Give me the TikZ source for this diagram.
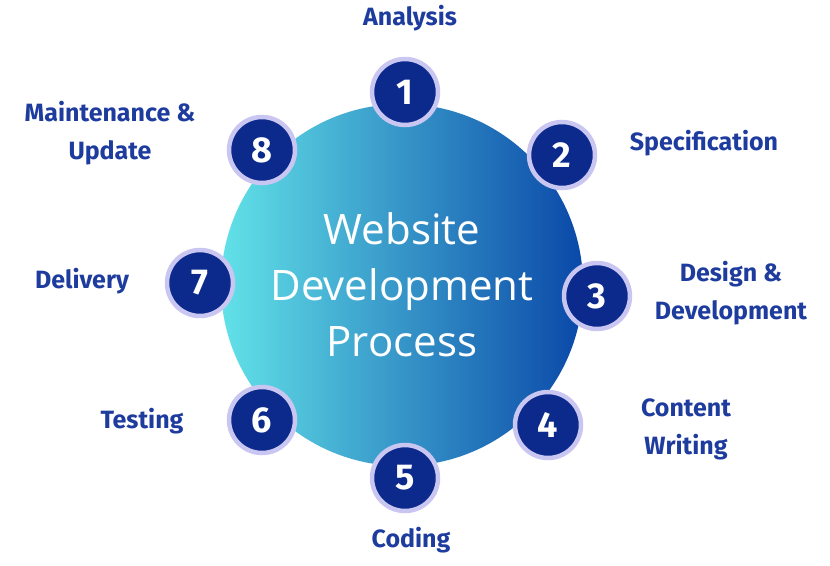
\documentclass[tikz,border=0pt]{standalone}
\usepackage{fontspec}
\setmainfont{Open Sans}
\newfontfamily\lab{Fira Sans}
\begin{document}
\begin{tikzpicture}[x=1pt,y=-1pt,
  num/.style={circle,draw=lavender,line width=4.5pt,fill=navy,minimum size=66pt,text=white,font=\lab\bfseries\fontsize{36}{36}\selectfont,inner sep=0pt},
  lbl/.style={text=lblue,font=\lab\bfseries\fontsize{25}{38}\selectfont,align=center}]
\definecolor{navy}{HTML}{0B2A8C}
\definecolor{lavender}{HTML}{C9C6F2}
\definecolor{lblue}{HTML}{1E3C9E}
\definecolor{cyanL}{HTML}{62E2E8}
\definecolor{blueR}{HTML}{0A48A8}
\useasboundingbox (0,0) rectangle (830,565);
\node[circle,minimum size=362pt,inner sep=0pt,shading=axis,top color=cyanL,bottom color=blueR,shading angle=90] (c) at (402,285) {};
\node[text=white,align=center,font=\fontsize{42}{56}\selectfont] (t) at (c) {Website\\Development\\Process};
\node[num] (n1) at (405,92) {1};
\node[num] (n2) at (562,155) {2};
\node[num] (n3) at (597,296) {3};
\node[num] (n4) at (548,425) {4};
\node[num] (n5) at (405,478) {5};
\node[num] (n6) at (262,420) {6};
\node[num] (n7) at (200,283) {7};
\node[num] (n8) at (262,150) {8};
\node[lbl] (l1) at (410,18) {Analysis};
\node[lbl] (l2) at (704,143) {Specification};
\node[lbl] (l3) at (731,293) {Design \&\\Development};
\node[lbl] (l4) at (686,429) {Content\\Writing};
\node[lbl] (l5) at (411,540) {Coding};
\node[lbl] (l6) at (142,421) {Testing};
\node[lbl] (l7) at (82,281) {Delivery};
\node[lbl] (l8) at (110,133) {Maintenance \&\\Update};
\end{tikzpicture}
\end{document}
